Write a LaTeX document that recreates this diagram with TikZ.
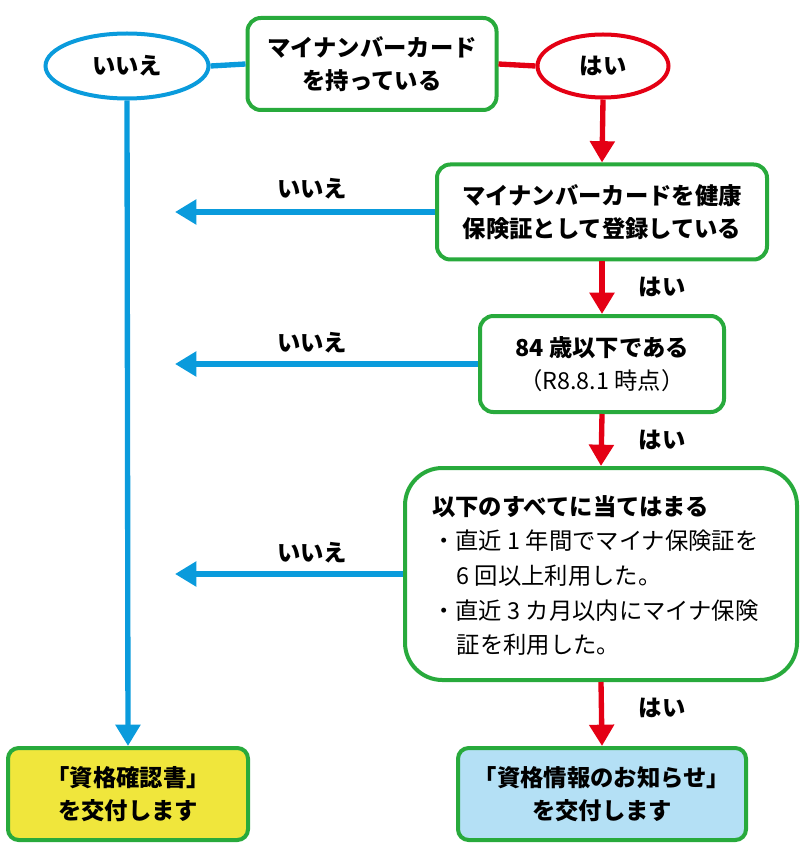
\documentclass[tikz,border=0pt]{standalone}
\usepackage{fontspec}
\setmainfont{Noto Sans CJK JP}
\usetikzlibrary{shapes.geometric,arrows.meta}
\definecolor{grn}{RGB}{40,170,60}
\definecolor{blu}{RGB}{10,155,220}
\definecolor{rd}{RGB}{228,0,20}
\definecolor{ylw}{RGB}{240,230,60}
\definecolor{lbl}{RGB}{180,224,245}
\begin{document}
\begin{tikzpicture}[x=0.75pt,y=-0.75pt,
  box/.style={draw=grn,line width=3pt,rounded corners=10pt,align=center,font=\fontsize{17.5}{25}\selectfont\bfseries,inner sep=0pt},
  ell/.style={ellipse,line width=3pt,font=\fontsize{17.5}{20}\selectfont\bfseries,inner sep=0pt},
  ba/.style={blu,line width=4pt,-{Triangle[length=16pt,width=18pt]}},
  ra/.style={rd,line width=4pt,-{Triangle[length=16pt,width=18pt]}},
  lab/.style={font=\fontsize{17.5}{20}\selectfont\bfseries}]
\useasboundingbox (0,0) rectangle (802,848);
\node[box,minimum width=249*0.75pt,minimum height=92*0.75pt] (b1) at (372,64) {マイナンバーカード\\を持っている};
\node[ell,draw=blu,minimum width=163*0.75pt,minimum height=65*0.75pt] (no) at (127,66) {いいえ};
\node[ell,draw=rd,minimum width=131*0.75pt,minimum height=63*0.75pt] (yes) at (603,66) {はい};
\draw[blu,line width=4pt] (b1.west) -- (no.east);
\draw[rd,line width=4pt] (b1.east) -- (yes.west);
\node[box,minimum width=330*0.75pt,minimum height=95*0.75pt] (b2) at (602,212) {マイナンバーカードを健康\\保険証として登録している};
\node[box,minimum width=244*0.75pt,minimum height=96*0.75pt] (b3) at (602,364) {84 歳以下である\\{\mdseries （R8.8.1 時点）}};
\node[box,rounded corners=28pt,minimum width=392*0.75pt,minimum height=212*0.75pt] (b4) at (601,574) {};
\node[anchor=north west,align=left,font=\fontsize{17.5}{25}\selectfont,inner sep=0pt] (t4) at (432,495) {{\bfseries 以下のすべてに当てはまる}\\[1pt]
 ・直近 1 年間でマイナ保険証を\\[1pt]
 \hspace{1.05em}6 回以上利用した。\\[1pt]
 ・直近 3 カ月以内にマイナ保険\\[1pt]
 \hspace{1.05em}証を利用した。};
\node[box,fill=ylw,rounded corners=8pt,minimum width=240*0.75pt,minimum height=92*0.75pt] (y) at (128,794) {「資格確認書」\\を交付します};
\node[box,fill=lbl,rounded corners=8pt,minimum width=288*0.75pt,minimum height=92*0.75pt] (lb) at (602,794) {「資格情報のお知らせ」\\を交付します};
\coordinate (a2) at (175,212);
\coordinate (a3) at (175,364);
\coordinate (a4) at (175,574);
\draw[ba] (no.south) -- (y.north);
\draw[ba] (b2.west) -- (a2);
\draw[ba] (b3.west) -- (a3);
\draw[ba] (b4.west) -- (a4);
\draw[ra] (yes.south) -- (b2.north);
\draw[ra] (b2.south) -- (b3.north);
\draw[ra] (b3.south) -- (b4.north);
\draw[ra] (b4.south) -- (lb.north);
\node[lab] (n1) at (312,189) {いいえ};
\node[lab] (n2) at (312,343) {いいえ};
\node[lab] (n3) at (312,553) {いいえ};
\node[lab] (y1) at (662,287) {はい};
\node[lab] (y2) at (662,440) {はい};
\node[lab] (y3) at (662,708) {はい};
\end{tikzpicture}
\end{document}
